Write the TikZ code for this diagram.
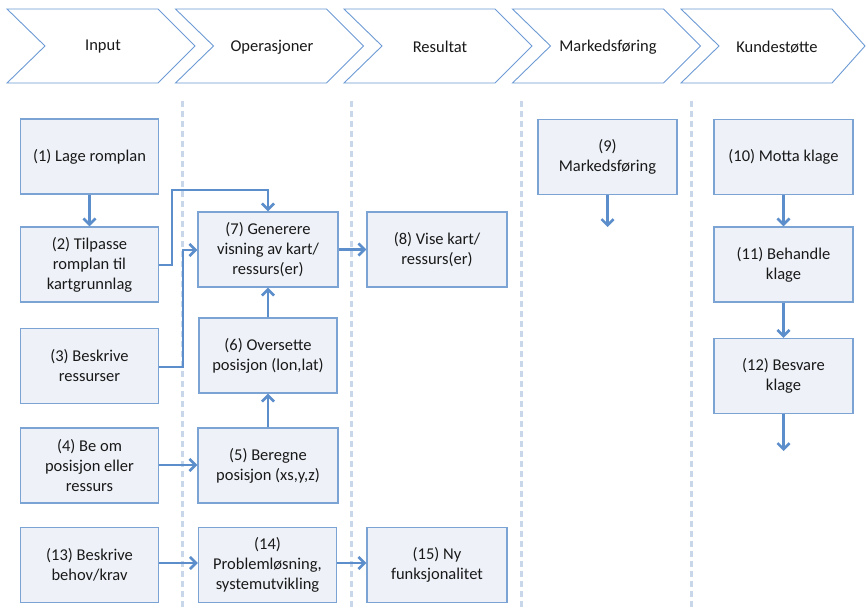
\documentclass[tikz,border=0pt]{standalone}
\usepackage{fontspec}
\setmainfont{Carlito}
\usetikzlibrary{arrows.meta}
\definecolor{arrowblue}{HTML}{5B8ECB}
\definecolor{boxborder}{HTML}{7BA3D3}
\definecolor{boxfill}{HTML}{EEF2F8}
\definecolor{chevline}{HTML}{6D9BD4}
\definecolor{sepline}{HTML}{C8D8EA}
\begin{document}
\begin{tikzpicture}[x=1pt,y=-1pt,
  every node/.style={font=\fontsize{16.5}{20}\selectfont, text=black!90},
  stepbox/.style={draw=boxborder, line width=1.4pt, fill=boxfill, minimum width=138pt, minimum height=75pt, align=center, inner sep=2pt},
  flow/.style={draw=arrowblue, line width=2.6pt, -{Straight Barb[length=6pt,width=12pt,line width=2.6pt]}},
  chev/.style={draw=chevline, line width=0.9pt, fill=white},
  sep/.style={draw=sepline, line width=3pt, dash pattern=on 6pt off 4pt}
]
\useasboundingbox (0,0) rectangle (867,609);
\fill[white] (0,0) rectangle (867,609);

% separators
\foreach \x in {182,351,521,691} {
  \draw[sep] (\x,101) -- (\x,609);
}

% chevrons
\foreach \L/\tip in {7/188,175.5/188,344/188,512.5/188,681/184} {
  \draw[chev] (\L,9) -- (\L+151,9) -- (\L+\tip,46) -- (\L+151,83) -- (\L,83) -- (\L+38,46) -- cycle;
}
\node (h1) at (103,47) {Input};
\node (h2) at (272,47) {Operasjoner};
\node (h3) at (440,47) {Resultat};
\node (h4) at (608,47) {Markedsføring};
\node (h5) at (777,47) {Kundestøtte};

% boxes
\node[stepbox] (n1) at (89.5,156.5) {(1) Lage romplan};
\node[stepbox] (n2) at (89.5,264.5) {(2) Tilpasse\\romplan til\\kartgrunnlag};
\node[stepbox] (n3) at (89.5,366) {(3) Beskrive\\ressurser};
\node[stepbox] (n4) at (89.5,465.5) {(4) Be om\\posisjon eller\\ressurs};
\node[stepbox] (n13) at (89.5,565) {(13) Beskrive\\behov/krav};
\node[stepbox, minimum width=140pt] (n7) at (268,249.5) {(7) Generere\\visning av kart/\\ressurs(er)};
\node[stepbox] (n6) at (268,355.5) {(6) Oversette\\posisjon (lon,lat)};
\node[stepbox, minimum width=140pt] (n5) at (268,465.5) {(5) Beregne\\posisjon (xs,y,z)};
\node[stepbox] (n14) at (267.5,565) {(14)\\Problemløsning,\\systemutvikling};
\node[stepbox, minimum width=140pt] (n8) at (437,249.5) {(8) Vise kart/\\ressurs(er)};
\node[stepbox, minimum width=140pt] (n15) at (437,565) {(15) Ny\\funksjonalitet};
\node[stepbox, minimum width=139pt] (n9) at (607.5,157) {(9)\\Markedsføring};
\node[stepbox, minimum width=139pt] (n10) at (783.5,157) {(10) Motta klage};
\node[stepbox, minimum width=139pt] (n11) at (783.5,264.5) {(11) Behandle\\klage};
\node[stepbox, minimum width=139pt] (n12) at (783.5,376) {(12) Besvare\\klage};

\coordinate (e9) at (607.5,227);
\coordinate (e12) at (783.5,451);

% connectors
\draw[flow] (n1) -- (n2);
\draw[flow] (n2.east |- 0,265) -- (172,265) -- (172,190) -- (268,190) -- (n7.north);
\draw[flow] (n3.east |- 0,367) -- (183,367) -- (183,250) -- (n7.west |- 0,250);
\draw[flow] (n4.east |- 0,465) -- (n5.west |- 0,465);
\draw[flow] (n5) -- (n6);
\draw[flow] (n6) -- (n7);
\draw[flow] (n7) -- (n8);
\draw[flow] (n13.east |- 0,563) -- (n14.west |- 0,563);
\draw[flow] (n14.east |- 0,563) -- (n15.west |- 0,563);
\draw[flow] (n9) -- (e9);
\draw[flow] (n10) -- (n11);
\draw[flow] (n11) -- (n12);
\draw[flow] (n12) -- (e12);
\end{tikzpicture}
\end{document}
